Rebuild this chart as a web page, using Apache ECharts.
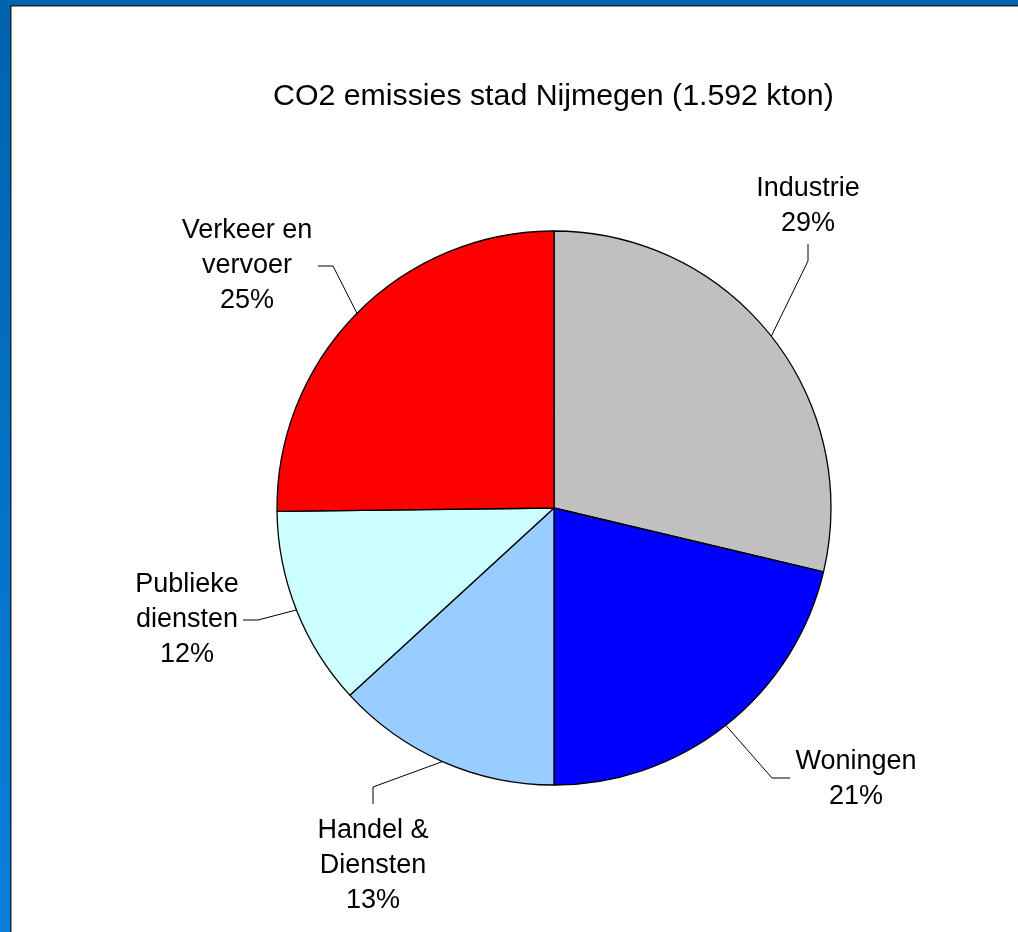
<!DOCTYPE html>
<html>
<head>
<meta charset="utf-8">
<script src="https://cdn.jsdelivr.net/npm/echarts@6/dist/echarts.min.js"></script>
<style>
html,body{margin:0;padding:0;background:#fff;}
#c{width:1018px;height:932px;}
</style>
</head>
<body>
<div id="c"></div>
<script>
// Data
const titleText = 'CO2 emissies stad Nijmegen (1.592 kton)';
const categories = ['Industrie', 'Woningen', 'Handel &\nDiensten', 'Publieke\ndiensten', 'Verkeer en\nvervoer'];
const valuesKton = [457, 339, 210, 185, 401];
const sliceColors = ['#C0C0C0', '#0000FF', '#99CCFF', '#CCFFFF', '#FF0000'];

// Label placement (layout only): label centre and leader-line elbow/end points
const labelCenters = [[808, 206], [856, 779], [373, 866], [187, 620], [247, 266]];
const leaderBends = [
  [[808, 261], [808, 244]],
  [[772, 778], [790, 778]],
  [[373, 787], [373, 804]],
  [[258, 620], [243, 620]],
  [[333, 266], [318, 266]]
];

const chart = echarts.init(document.getElementById('c'), null, {renderer: 'canvas'});
const cx = 554, cy = 508, R = 277;

const pieData = categories.map((n, i) => ({name: n, value: valuesKton[i], itemStyle: {color: sliceColors[i]}}));

chart.setOption({
  backgroundColor: '#ffffff',
  animation: false,
  title: {
    text: titleText,
    left: 268,
    top: 77,
    textStyle: {fontFamily: 'Liberation Sans, Arial, sans-serif', fontSize: 30.3, fontWeight: 'normal', color: '#000'}
  },
  graphic: [
    {type: 'rect', shape: {x: 0, y: 0, width: 10, height: 932}, style: {fill: new echarts.graphic.LinearGradient(0, 0, 0, 1, [{offset: 0, color: '#0063ae'}, {offset: 1, color: '#0780dc'}])}, z: 100},
    {type: 'rect', shape: {x: 0, y: 0, width: 1018, height: 5}, style: {fill: new echarts.graphic.LinearGradient(0, 0, 1, 0, [{offset: 0, color: '#0063ae'}, {offset: 1, color: '#0066b0'}])}, z: 100},
    {type: 'rect', shape: {x: 10, y: 5, width: 1.5, height: 927}, style: {fill: '#12263a'}, z: 100},
    {type: 'rect', shape: {x: 10, y: 5, width: 1008, height: 1.5}, style: {fill: '#12263a'}, z: 100}
  ],
  series: [{
    type: 'pie',
    center: [cx, cy],
    radius: R,
    startAngle: 90,
    clockwise: true,
    data: pieData,
    itemStyle: {borderColor: '#000', borderWidth: 1.3},
    emphasis: {disabled: true},
    label: {
      show: true,
      position: 'outside',
      fontFamily: 'Liberation Sans, Arial, sans-serif',
      fontSize: 27,
      lineHeight: 35,
      color: '#000',
      align: 'center',
      formatter: p => p.name + '\n' + Math.round(p.percent) + '%'
    },
    labelLine: {show: true, length: 10, length2: 10, lineStyle: {color: '#000', width: 1}},
    labelLayout: function (params) {
      const i = params.dataIndex;
      const c = labelCenters[i];
      const pts = params.labelLinePoints;
      const edge = pts ? pts[0] : [cx, cy];
      return {
        x: c[0],
        y: c[1],
        align: 'center',
        verticalAlign: 'middle',
        labelLinePoints: [edge, leaderBends[i][0], leaderBends[i][1]]
      };
    }
  }]
});
</script>
</body>
</html>
